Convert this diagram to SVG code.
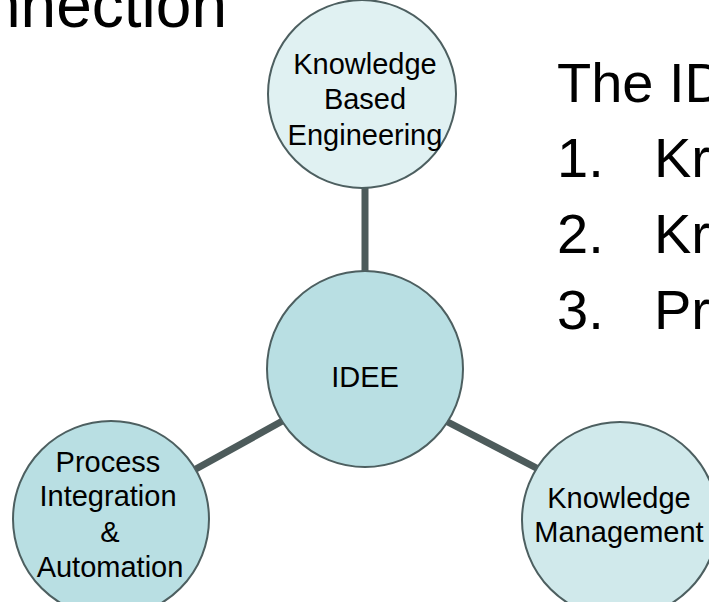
<svg xmlns="http://www.w3.org/2000/svg" width="709" height="602" viewBox="0 0 709 602">
  <style>
    .txt { font-family: "Liberation Sans", Arial, sans-serif; fill: #000; }
    .node circle { stroke: #4d5f60; stroke-width: 2; }
    .node text { font-size: 29px; text-anchor: middle; }
    .conn line { stroke: #4d5b5b; stroke-width: 7; }
    .big { font-size: 56px; }
  </style>
  <rect width="709" height="602" fill="#ffffff"/>

  <!-- title, partly outside the frame -->
  <text class="txt" x="-15" y="27" font-size="64">nnection</text>

  <!-- connectors (drawn under the circles) -->
  <g id="connectors" class="conn">
    <line x1="365" y1="180" x2="365" y2="280"/>
    <line x1="185" y1="475" x2="295" y2="414"/>
    <line x1="440" y1="418" x2="548" y2="474"/>
  </g>

  <g id="node-kbe" class="node">
    <circle cx="362" cy="94" r="94" fill="#e0f1f2"/>
    <text class="txt" x="365" y="74">Knowledge</text>
    <text class="txt" x="365" y="109">Based</text>
    <text class="txt" x="365" y="145">Engineering</text>
  </g>

  <g id="node-idee" class="node">
    <circle cx="365" cy="369" r="98" fill="#b9dfe3"/>
    <text class="txt" x="365" y="387">IDEE</text>
  </g>

  <g id="node-pia" class="node">
    <circle cx="111" cy="519" r="98" fill="#b9dfe3"/>
    <text class="txt" x="108" y="472">Process</text>
    <text class="txt" x="108" y="506">Integration</text>
    <text class="txt" x="110" y="542">&amp;</text>
    <text class="txt" x="110" y="577">Automation</text>
  </g>

  <g id="node-km" class="node">
    <circle cx="620" cy="520" r="98" fill="#d0e9eb"/>
    <text class="txt" x="619" y="508">Knowledge</text>
    <text class="txt" x="619" y="542">Management</text>
  </g>

  <!-- list on the right -->
  <g id="list" class="txt big">
    <text x="557" y="102">The ID</text>
    <text x="557" y="177">1.</text>
    <text x="654" y="177">Kr</text>
    <text x="557" y="253">2.</text>
    <text x="654" y="253">Kr</text>
    <text x="557" y="329">3.</text>
    <text x="654" y="329">Pr</text>
  </g>
</svg>
